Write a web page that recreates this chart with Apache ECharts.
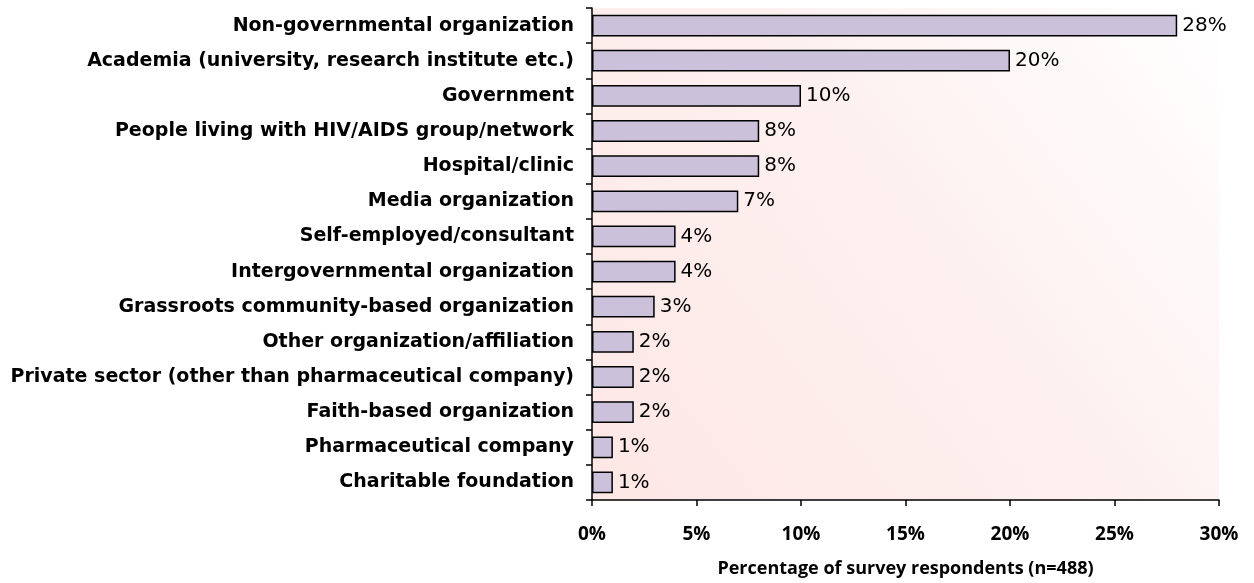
<!DOCTYPE html>
<html>
<head>
<meta charset="utf-8">
<script src="https://cdn.jsdelivr.net/npm/echarts@6/dist/echarts.min.js"></script>
<style>
  html, body { margin: 0; padding: 0; background: #fff; }
  #chart { width: 1254px; height: 583px; }
</style>
</head>
<body>
<div id="chart"></div>
<script>
// categories top to bottom
var categories = [
  'Non-governmental organization',
  'Academia (university, research institute etc.)',
  'Government',
  'People living with HIV/AIDS group/network',
  'Hospital/clinic',
  'Media organization',
  'Self-employed/consultant',
  'Intergovernmental organization',
  'Grassroots community-based organization',
  'Other organization/affiliation',
  'Private sector (other than pharmaceutical company)',
  'Faith-based organization',
  'Pharmaceutical company',
  'Charitable foundation'
];
var percentages = [28, 20, 10, 8, 8, 7, 4, 4, 3, 2, 2, 2, 1, 1];
var xTicks = [0, 5, 10, 15, 20, 25, 30];

var chart = echarts.init(document.getElementById('chart'));

var option = {
  animation: false,
  backgroundColor: '#ffffff',
  grid: {
    left: 592,
    right: 35,
    top: 8,
    bottom: 81,
    show: true,
    borderWidth: 0,
    backgroundColor: new echarts.graphic.LinearGradient(0, 1, 1, 0, [
      { offset: 0, color: '#fde7e5' },
      { offset: 0.55, color: '#fdf1f0' },
      { offset: 1, color: '#ffffff' }
    ])
  },
  xAxis: {
    type: 'value',
    min: xTicks[0],
    max: xTicks[xTicks.length - 1],
    interval: 5,
    splitLine: { show: false },
    axisLine: { show: true, lineStyle: { color: '#000', width: 1.5 } },
    axisTick: { show: true, length: 6, lineStyle: { color: '#000', width: 1.5 } },
    axisLabel: {
      formatter: '{value}%',
      color: '#000',
      fontFamily: 'Open Sans',
      fontWeight: 'bold',
      fontSize: 19,
      margin: 25
    },
    name: 'Percentage of survey respondents (n=488)',
    nameLocation: 'middle',
    nameGap: 60,
    nameTextStyle: {
      color: '#000',
      fontFamily: 'Open Sans',
      fontWeight: 'bold',
      fontSize: 18
    }
  },
  yAxis: {
    type: 'category',
    inverse: true,
    data: categories,
    axisLine: { show: true, lineStyle: { color: '#000', width: 1.5 } },
    axisTick: { show: true, length: 6, lineStyle: { color: '#000', width: 1.5 } },
    axisLabel: {
      color: '#000',
      fontFamily: 'DejaVu Sans',
      fontWeight: 'bold',
      fontSize: 19,
      margin: 18
    }
  },
  series: [{
    type: 'bar',
    data: percentages,
    barCategoryGap: '38%',
    itemStyle: {
      color: '#ccc1da',
      borderColor: '#000',
      borderWidth: 1.5
    },
    label: {
      show: true,
      position: 'right',
      distance: 5,
      formatter: '{c}%',
      color: '#000',
      fontFamily: 'DejaVu Sans',
      fontSize: 20
    }
  }]
};

chart.setOption(option);
</script>
</body>
</html>
